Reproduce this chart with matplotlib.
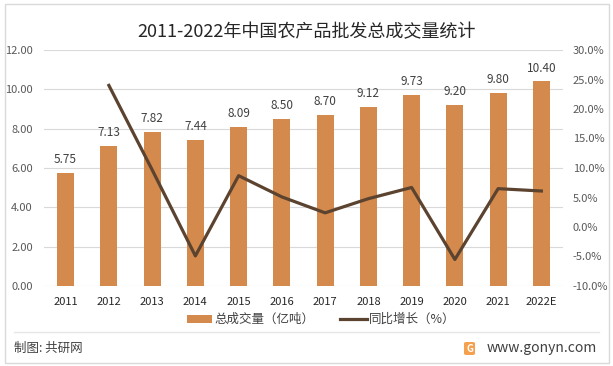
import matplotlib
matplotlib.use("Agg")
import matplotlib.pyplot as plt
from matplotlib.patches import Rectangle, FancyBboxPatch
from matplotlib.lines import Line2D
import numpy as np

plt.rcParams['font.family'] = ['Noto Sans CJK SC', 'DejaVu Sans']

years = ["2011", "2012", "2013", "2014", "2015", "2016",
         "2017", "2018", "2019", "2020", "2021", "2022E"]
volume = [5.75, 7.13, 7.82, 7.44, 8.09, 8.50, 8.70, 9.12, 9.73, 9.20, 9.80, 10.40]
growth = [np.nan, 24.0, 9.7, -4.9, 8.7, 5.1, 2.4, 4.8, 6.7, -5.5, 6.5, 6.1]

bar_color = "#D48A4C"
line_color = "#5B4330"
grid_color = "#D9D9D9"
text_color = "#595959"

W, H = 613, 366
fig = plt.figure(figsize=(W / 100, H / 100), dpi=100)

# outer border
fig.patches.append(Rectangle((5 / W, 3 / H), 604 / W, 359 / H, transform=fig.transFigure,
                             fill=False, edgecolor="#D9D9D9", linewidth=1))

ax = fig.add_axes([44 / W, 1 - 286 / H, 519 / W, 236 / H])
x = np.arange(len(years))
ax.bar(x, volume, width=0.39, color=bar_color, zorder=2)
for xi, v in zip(x, volume):
    ax.text(xi, v + 0.35, f"{v:.2f}", ha="center", va="bottom", fontsize=8.5,
            color="#404040")

ax.set_ylim(0, 12)
ax.set_yticks(np.arange(0, 12.1, 2))
ax.set_yticklabels([f"{t:.2f}" for t in np.arange(0, 12.1, 2)])
ax.set_xlim(-0.5, len(years) - 0.5)
ax.set_xticks(x)
ax.set_xticklabels(years)
ax.grid(axis="y", color=grid_color, linewidth=0.8, zorder=0)
for s in ax.spines.values():
    s.set_visible(False)
ax.tick_params(axis="both", length=0, labelsize=8, colors=text_color)
ax.tick_params(axis="x", pad=8, labelcolor="#262626")
ax.tick_params(axis="y", pad=8)

ax2 = ax.twinx()
ax2.plot(x, growth, color=line_color, linewidth=2.3, zorder=3)
ax2.set_ylim(-10, 30)
ax2.set_yticks(np.arange(-10, 31, 5))
ax2.set_yticklabels([f"{t:.1f}%" for t in np.arange(-10, 31, 5)])
for s in ax2.spines.values():
    s.set_visible(False)
ax2.tick_params(axis="y", length=0, labelsize=8, colors=text_color, pad=7)

fig.text(0.5, 1 - 32 / H, "2011-2022年中国农产品批发总成交量统计", ha="center", va="center",
         fontsize=13, color="#262626")

# legend
ly = 1 - 319 / H
fig.patches.append(Rectangle((187 / W, ly - 4 / H), 25 / W, 8 / H, transform=fig.transFigure,
                             facecolor=bar_color, edgecolor="none"))
fig.text(214 / W, ly, "总成交量（亿吨）", ha="left", va="center", fontsize=9, color="#404040")
fig.lines.append(Line2D([340 / W, 367 / W], [ly, ly], transform=fig.transFigure,
                        color=line_color, linewidth=2.3))
fig.text(369 / W, ly, "同比增长（%）", ha="left", va="center", fontsize=9, color="#404040")

# separator and footer
fig.lines.append(Line2D([14 / W, 599 / W], [1 - 332 / H, 1 - 332 / H], transform=fig.transFigure,
                        color="#E6E6E6", linewidth=1))
fig.text(14 / W, 1 - 348 / H, "制图: 共研网", ha="left", va="center", fontsize=9, color="#404040")
fig.patches.append(FancyBboxPatch((464 / W, 1 - 355 / H), 11 / W, 13 / H,
                                  boxstyle="round,pad=0,rounding_size=0.004",
                                  transform=fig.transFigure, facecolor="#F4A04E",
                                  edgecolor="none"))
fig.text(469.5 / W, 1 - 348.5 / H, "G", ha="center", va="center", fontsize=7,
         color="white", fontweight="bold")
fig.text(487 / W, 1 - 348 / H, "www.gonyn.com", ha="left", va="center", fontsize=10,
         color="#404040")

fig.savefig("out.png", dpi=100)
